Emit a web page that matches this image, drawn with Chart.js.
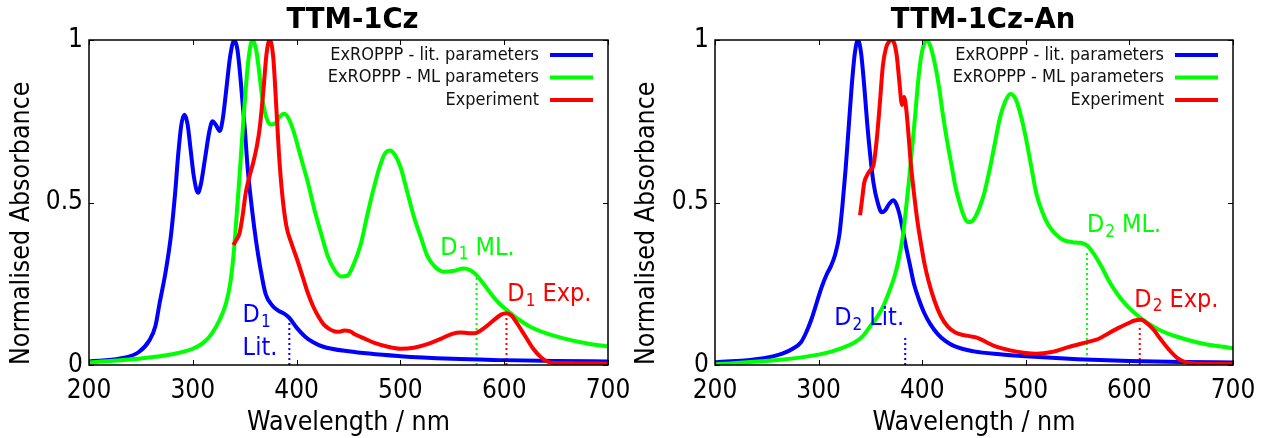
<!DOCTYPE html>
<html>
<head>
<meta charset="utf-8">
<script src="https://cdn.jsdelivr.net/npm/chart.js@4.4.0/dist/chart.umd.min.js"></script>
<style>
  html, body { margin: 0; padding: 0; background: #fff; }
  #wrap { position: relative; width: 1262px; height: 438px; }
  .box { position: absolute; top: 0; width: 631px; height: 438px; }
</style>
</head>
<body>
<div id="wrap">
  <div class="box" style="left:0"><canvas id="c1" width="631" height="438"></canvas></div>
  <div class="box" style="left:631px"><canvas id="c2" width="631" height="438"></canvas></div>
</div>
<script>
// series labels + tick values
const seriesNames = ["ExROPPP - lit. parameters", "ExROPPP - ML parameters", "Experiment"];
const seriesColors = ["#0000ff", "#00ff00", "#ff0000"];
const xTicks = [200, 300, 400, 500, 600, 700];
const yTicks = [0, 0.5, 1];

// TTM-1Cz
const wlLit1 = [200,230,248,258,264,268,274,279,283,286,289,292,295,298,301,305,308,312,316,319,322,326,329,332,336,340,343,346,350,353,357,361,365,370,376,382,388,393,400,408,416,425,450,500,550,600,650,700];
const absLit1 = [0.011,0.02,0.04,0.075,0.12,0.19,0.29,0.40,0.53,0.65,0.74,0.77,0.74,0.66,0.58,0.53,0.56,0.64,0.72,0.75,0.74,0.72,0.76,0.84,0.95,1.0,0.97,0.88,0.73,0.60,0.48,0.38,0.30,0.22,0.185,0.168,0.158,0.145,0.115,0.088,0.07,0.057,0.042,0.027,0.019,0.015,0.012,0.011];
const wlML1 = [200,250,280,300,310,318,326,332,336,339,342,345,348,351,354,357.5,361,364,367,371,375,380,384,388,392,397,404,411,417,424,430,437,443,449,455,462,468,474,480,485,490,495,500,506,513,520,526,534,542,552,561,567,573,580,587,595,603,614,625,640,657,680,700];
const absML1 = [0.008,0.02,0.033,0.05,0.068,0.095,0.14,0.19,0.25,0.33,0.45,0.58,0.72,0.85,0.95,1.0,0.97,0.9,0.82,0.76,0.74,0.745,0.765,0.773,0.76,0.72,0.64,0.56,0.48,0.40,0.335,0.29,0.272,0.275,0.31,0.374,0.46,0.54,0.61,0.65,0.66,0.645,0.61,0.54,0.456,0.39,0.335,0.3,0.287,0.29,0.297,0.292,0.278,0.25,0.22,0.19,0.168,0.14,0.118,0.098,0.082,0.066,0.057];
const wlExp1 = [339,342,345,348,351,355,358,361.5,364.5,368,371,374,377.5,380.5,383,386,390,395,401,406,411,416,421,426,431,437,441,446,451,457,465,475,488,500,513,526,540,550,558,566,572,580,590,597,602,607,612,620,628,635,642,650,670,700];
const absExp1 = [0.369,0.385,0.405,0.46,0.53,0.585,0.62,0.67,0.73,0.845,0.957,1.0,0.947,0.79,0.65,0.53,0.43,0.375,0.32,0.27,0.22,0.18,0.149,0.125,0.112,0.103,0.102,0.106,0.104,0.093,0.082,0.068,0.056,0.05,0.053,0.064,0.082,0.096,0.1,0.098,0.098,0.112,0.138,0.155,0.159,0.152,0.13,0.09,0.05,0.025,0.01,0.006,0.005,0.004];
const markWl1 = [393, 573.4, 602.2];
const markTop1 = [0.15, 0.277, 0.145];

// TTM-1Cz-An
const wlLit2 = [200,247,265,275,283,288,293,298,303,308,312,316,320,323,326,329,332,335,338,341,344,347,350,353,357,361,364,368,372,375,378,381,384,388,392,397,402,408,415,422,431,450,475,500,550,600,650,700];
const absLit2 = [0.008,0.021,0.035,0.05,0.07,0.1,0.14,0.19,0.24,0.28,0.305,0.34,0.4,0.49,0.6,0.73,0.86,0.96,1.0,0.96,0.86,0.74,0.64,0.56,0.5,0.47,0.475,0.495,0.507,0.495,0.465,0.42,0.37,0.31,0.25,0.2,0.16,0.125,0.095,0.075,0.058,0.042,0.033,0.027,0.018,0.012,0.009,0.008];
const wlML2 = [200,263,300,313,325,335,343,350,357,363,368,373,377,381,384,387,390,393,396,399,402,404.5,408,412,416,420,424,428,432,436,440,444,448,452,456,460,465,470,475,480,485,490,495,500,505,510,516,522,528,536,545,553,559,565,573,580,588,596,605,617,630,643,660,675,690,700];
const absML2 = [0.002,0.016,0.032,0.042,0.055,0.07,0.09,0.12,0.15,0.185,0.225,0.27,0.32,0.39,0.47,0.56,0.66,0.76,0.87,0.95,0.99,1.0,0.98,0.93,0.86,0.77,0.69,0.62,0.55,0.5,0.46,0.44,0.442,0.46,0.49,0.53,0.6,0.68,0.76,0.81,0.834,0.82,0.77,0.7,0.615,0.53,0.47,0.43,0.405,0.385,0.378,0.376,0.368,0.345,0.303,0.26,0.22,0.188,0.16,0.13,0.106,0.09,0.074,0.063,0.056,0.052];
const wlExp2 = [340,342,344,347,350,353,356,359,362,365,368,370,373,375.5,378,380.5,382.5,384.5,387,389,392,395.5,399,402,406,411.6,418,424.5,432,440,447,454,462,470,485,500,510,525,541,561,570,580,590,600,605,611,617,623,630,638,646,655,665,700];
const absExp2 = [0.461,0.51,0.56,0.585,0.6,0.615,0.69,0.8,0.92,0.975,0.995,1.0,0.99,0.95,0.87,0.8,0.825,0.79,0.7,0.62,0.53,0.44,0.37,0.315,0.26,0.2,0.15,0.119,0.1,0.092,0.088,0.083,0.07,0.058,0.045,0.037,0.035,0.04,0.055,0.072,0.08,0.098,0.115,0.13,0.137,0.139,0.128,0.11,0.08,0.048,0.022,0.008,0.004,0.003];
const markWl2 = [383.6, 559, 610];
const markTop2 = [0.085, 0.354, 0.124];

const FONT = '"DejaVu Sans Condensed", "Noto Sans", sans-serif';

function pts(xs, ys) { return xs.map((v, i) => ({ x: v, y: ys[i] })); }

// titles, inward mirror ticks, frame, legend, D-state markers
const extras = {
  id: 'extras',
  beforeDatasetsDraw(chart, args, o) {
    const { ctx, scales: { x, y } } = chart;
    ctx.save();
    ctx.lineWidth = 2;
    ctx.setLineDash([2, 3]);
    o.marks.forEach((wl, i) => {
      const px = x.getPixelForValue(wl);
      ctx.strokeStyle = seriesColors[i];
      ctx.beginPath();
      ctx.moveTo(px, y.getPixelForValue(0));
      ctx.lineTo(px, y.getPixelForValue(o.tops[i]));
      ctx.stroke();
    });
    ctx.restore();
  },
  afterDatasetsDraw(chart, args, o) {
    const { ctx, chartArea: a, scales: { x, y } } = chart;
    ctx.save();
    // frame + ticks
    ctx.strokeStyle = '#000';
    ctx.lineWidth = 1.5;
    ctx.strokeRect(a.left, a.top, a.right - a.left, a.bottom - a.top);
    ctx.lineWidth = 1;
    xTicks.forEach(v => {
      const px = Math.round(x.getPixelForValue(v)) + 0.5;
      ctx.beginPath();
      ctx.moveTo(px, a.bottom); ctx.lineTo(px, a.bottom - 5);
      ctx.moveTo(px, a.top); ctx.lineTo(px, a.top + 5);
      ctx.stroke();
    });
    yTicks.forEach(v => {
      const py = Math.round(y.getPixelForValue(v)) + 0.5;
      ctx.beginPath();
      ctx.moveTo(a.left, py); ctx.lineTo(a.left + 5, py);
      ctx.moveTo(a.right, py); ctx.lineTo(a.right - 5, py);
      ctx.stroke();
    });
    // title
    ctx.fillStyle = '#000';
    ctx.font = 'bold 27.5px "DejaVu Sans", sans-serif';
    ctx.textAlign = 'center';
    ctx.textBaseline = 'middle';
    ctx.fillText(o.title, (a.left + a.right) / 2 + o.titleShift, 21);
    // legend
    ctx.font = '18px ' + FONT;
    ctx.textAlign = 'right';
    chart.data.datasets.forEach((ds, i) => {
      const ly = a.top + 15 + i * 22.5;
      ctx.fillStyle = '#111';
      ctx.fillText(ds.label, a.right - 69, ly);
      ctx.strokeStyle = ds.borderColor;
      ctx.lineWidth = 4;
      ctx.beginPath();
      ctx.moveTo(a.right - 58, ly); ctx.lineTo(a.right - 15, ly);
      ctx.stroke();
    });
    // D labels
    ctx.textAlign = 'left';
    o.labels.forEach(l => {
      let px = x.getPixelForValue(l.wl);
      const py = y.getPixelForValue(l.v);
      ctx.fillStyle = l.color;
      ctx.font = '25px ' + FONT;
      ctx.fillText(l.head, px, py);
      px += ctx.measureText(l.head).width;
      if (l.sub) {
        ctx.font = '17px ' + FONT;
        ctx.fillText(l.sub, px + 1, py + 7);
        px += ctx.measureText(l.sub).width + 1;
        ctx.font = '25px ' + FONT;
      }
      if (l.tail) ctx.fillText(l.tail, px, py);
    });
    ctx.restore();
  }
};

function makeChart(id, data, cfg) {
  return new Chart(document.getElementById(id), {
    type: 'line',
    data: {
      datasets: data.map((d, i) => ({
        label: seriesNames[i],
        data: d,
        borderColor: seriesColors[i],
        borderWidth: 4,
        pointRadius: 0,
        cubicInterpolationMode: 'monotone',
        order: 2 - i
      }))
    },
    options: {
      responsive: false,
      animation: false,
      layout: { padding: { top: 40, right: cfg.rightPad, left: 0, bottom: 0 } },
      plugins: {
        legend: { display: false },
        tooltip: { enabled: false },
        extras: cfg.extras
      },
      scales: {
        x: {
          type: 'linear', min: 200, max: 700,
          afterBuildTicks: s => { s.ticks = xTicks.map(v => ({ value: v })); },
          grid: { display: false, drawTicks: false },
          border: { display: false },
          ticks: { color: '#000', font: { family: FONT, size: 26 }, padding: 11, maxRotation: 0 },
          title: { display: true, text: 'Wavelength / nm', color: '#000', font: { family: FONT, size: 26.5, lineHeight: 1 }, padding: { top: 0, bottom: 1.5 } },
          afterFit: s => { s.height = 73; s.paddingLeft = 0; s.paddingRight = 0; }
        },
        y: {
          type: 'linear', min: 0, max: 1,
          afterBuildTicks: s => { s.ticks = yTicks.map(v => ({ value: v })); },
          grid: { display: false, drawTicks: false },
          border: { display: false },
          ticks: { color: '#000', font: { family: FONT, size: 26 }, padding: 6, callback: v => String(v) },
          title: { display: true, text: 'Normalised Absorbance', align: 'start', color: '#000', font: { family: FONT, size: 26.5, lineHeight: 1.2 }, padding: { top: cfg.yTitlePad, bottom: 0 } },
          afterFit: s => { s.width = cfg.yWidth; s.paddingTop = 0; s.paddingBottom = 0; }
        }
      }
    },
    plugins: [extras]
  });
}

makeChart('c1', [pts(wlLit1, absLit1), pts(wlML1, absML1), pts(wlExp1, absExp1)], {
  rightPad: 23, yWidth: 89, yTitlePad: 6.5,
  extras: {
    title: 'TTM-1Cz', titleShift: 4, marks: markWl1, tops: markTop1,
    labels: [
      { wl: 348, v: 0.151, head: 'D', sub: '1', tail: '', color: seriesColors[0] },
      { wl: 348, v: 0.05, head: 'Lit.', sub: '', tail: '', color: seriesColors[0] },
      { wl: 538.5, v: 0.36, head: 'D', sub: '1', tail: ' ML.', color: seriesColors[1] },
      { wl: 603, v: 0.218, head: 'D', sub: '1', tail: ' Exp.', color: seriesColors[2] }
    ]
  }
});

makeChart('c2', [pts(wlLit2, absLit2), pts(wlML2, absML2), pts(wlExp2, absExp2)], {
  rightPad: 29, yWidth: 84, yTitlePad: 0,
  extras: {
    title: 'TTM-1Cz-An', titleShift: 9, marks: markWl2, tops: markTop2,
    labels: [
      { wl: 315, v: 0.142, head: 'D', sub: '2', tail: ' Lit.', color: seriesColors[0] },
      { wl: 559, v: 0.43, head: 'D', sub: '2', tail: ' ML.', color: seriesColors[1] },
      { wl: 604.8, v: 0.2, head: 'D', sub: '2', tail: ' Exp.', color: seriesColors[2] }
    ]
  }
});
</script>
</body>
</html>
